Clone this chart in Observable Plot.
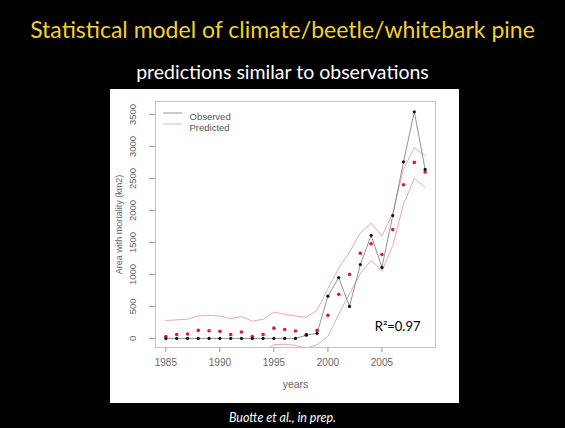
<!DOCTYPE html>
<html>
<head>
<meta charset="utf-8">
<script src="https://cdn.jsdelivr.net/npm/d3@7"></script>
<script src="https://cdn.jsdelivr.net/npm/@observablehq/plot@0.6"></script>
<style>
  html, body { margin: 0; padding: 0; background: #000; }
  body { width: 565px; height: 428px; position: relative; overflow: hidden; font-family: Lato, "Open Sans", sans-serif; }
  #title { position: absolute; left: 0; width: 565px; top: 14px; height: 30px; line-height: 30px; text-align: center; color: #f2d12a; font-size: 23px; }
  #subtitle { position: absolute; left: 0; width: 565px; top: 59px; height: 26px; line-height: 26px; text-align: center; color: #fff; font-size: 19.5px; }
  #panel { position: absolute; left: 110px; top: 89px; width: 349px; height: 314px; background: #fff; }
  #caption { position: absolute; left: 0; width: 565px; top: 410px; height: 16px; line-height: 16px; text-align: center; color: #fff; font-size: 12.5px; font-style: italic; }
</style>
</head>
<body>
<div id="title">Statistical model of climate/beetle/whitebark pine</div>
<div id="subtitle">predictions similar to observations</div>
<div id="panel"></div>
<div id="caption">Buotte et al., in prep.</div>
<script>
const years = [1985,1986,1987,1988,1989,1990,1991,1992,1993,1994,1995,1996,1997,1998,1999,2000,2001,2002,2003,2004,2005,2006,2007,2008,2009];
const observed = [0,0,0,0,0,0,0,0,0,0,0,0,0,50,80,660,950,500,1155,1610,1110,1920,2760,3540,2640];
const predicted = [30,60,70,125,120,110,60,100,30,60,160,140,115,60,125,360,690,1000,1330,1480,1310,1700,2400,2750,2600];
const upper = [280,290,300,350,360,350,310,340,270,300,410,380,350,330,440,780,1100,1350,1650,1800,1600,1950,2650,2980,2850];
const lower = [-220,-200,-190,-150,-150,-160,-200,-170,-220,-200,-100,-90,-110,-150,-100,30,380,700,1010,1220,1050,1450,2100,2500,2360];
const xTicks = [1985,1990,1995,2000,2005];
const yTicks = [0,500,1000,1500,2000,2500,3000,3500];
const legendLabels = ["Observed","Predicted"];
const legendColors = ["#8a8a8a", "#f2a6ae"];
const yLabel = "Area with mortality (km2)";
const xLabel = "years";
const r2Label = "R²=0.97";

const data = years.map((y,i) => ({year:y, observed:observed[i], predicted:predicted[i], upper:upper[i], lower:lower[i]}));

const chart = Plot.plot({
  width: 349,
  height: 314,
  marginLeft: 45,
  marginRight: 24,
  marginTop: 12,
  marginBottom: 56,
  x: {domain: [1984.04, 2009.96]},
  y: {domain: [-142, 3702]},
  style: {background: "#fff", fontFamily: "'Liberation Sans', Arial, sans-serif", fontSize: "9.5px", color: "#666"},
  marks: [
    Plot.frame({stroke: "#c4c4c4"}),
    Plot.axisX({ticks: xTicks, tickSize: 5, tickPadding: 6, tickFormat: d => String(d), label: null, stroke: "#999", fill: "#666", fontSize: 10}),
    Plot.axisY({ticks: yTicks, tickSize: 6, tickFormat: () => "", label: null, stroke: "#999"}),
    Plot.text(yTicks, {y: d => d, frameAnchor: "left", dx: -23, rotate: -90, text: d => String(d), textAnchor: "middle", fill: "#666", fontSize: 9.5}),
    Plot.text([yLabel], {frameAnchor: "left", dx: -36, rotate: -90, text: d => d, textAnchor: "middle", fill: "#666", fontSize: 9}),
    Plot.text([xLabel], {frameAnchor: "bottom", dy: 40, text: d => d, fill: "#666", fontSize: 10.5}),
    Plot.line(data, {x: "year", y: "upper", stroke: "#f2a6ae", strokeWidth: 1, clip: true}),
    Plot.line(data, {x: "year", y: "lower", stroke: "#f2a6ae", strokeWidth: 1, clip: true}),
    Plot.line(data, {x: "year", y: "observed", stroke: "#777", strokeWidth: 0.8, clip: true}),
    Plot.dot(data, {x: "year", y: "predicted", r: 1.8, fill: "#e3163a", stroke: null}),
    Plot.dot(data, {x: "year", y: "observed", r: 1.6, fill: "#111", stroke: null}),
    Plot.text([legendLabels[0]], {frameAnchor: "top-left", dx: 34, dy: 12, text: d => d, textAnchor: "start", fill: "#555", fontSize: 9.5}),
    Plot.text([legendLabels[1]], {frameAnchor: "top-left", dx: 34, dy: 23, text: d => d, textAnchor: "start", fill: "#555", fontSize: 9.5}),
    Plot.text([r2Label], {frameAnchor: "bottom-right", dx: -15, dy: -17, text: d => d, textAnchor: "end", fill: "#000", fontSize: 13, fontFamily: "Lato, 'Open Sans', sans-serif"})
  ]
});
document.getElementById("panel").appendChild(chart);

// Legend key lines (small decorative segments next to the legend labels)
const svg = d3.select(chart);
legendLabels.forEach((l, i) => {
  svg.append("line")
    .attr("x1", 45 + 8).attr("x2", 45 + 27)
    .attr("y1", 12 + 12 + i * 11).attr("y2", 12 + 12 + i * 11)
    .attr("stroke", legendColors[i]).attr("stroke-width", 0.9);
});
</script>
</body>
</html>
